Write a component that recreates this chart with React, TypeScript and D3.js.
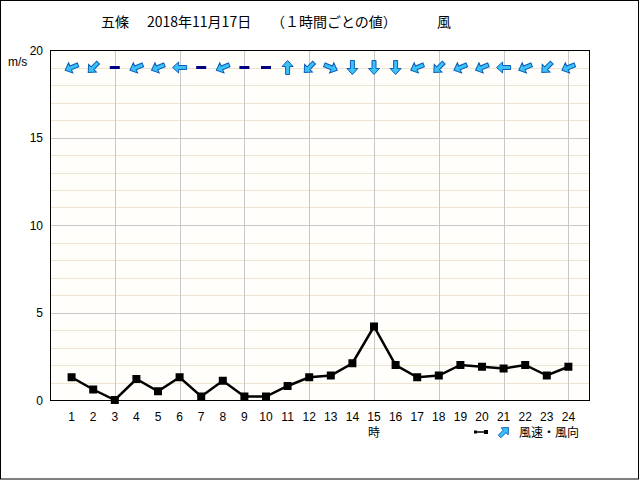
import React, { useEffect, useRef } from "react";
import * as d3 from "d3";

const hours = [1, 2, 3, 4, 5, 6, 7, 8, 9, 10, 11, 12, 13, 14, 15, 16, 17, 18, 19, 20, 21, 22, 23, 24];
const speeds = [1.3, 0.6, 0.0, 1.2, 0.5, 1.3, 0.2, 1.1, 0.2, 0.2, 0.8, 1.3, 1.4, 2.1, 4.2, 2.0, 1.3, 1.4, 2.0, 1.9, 1.8, 2.0, 1.4, 1.9];
const directions = ["東北東", "北東", "静穏", "東北東", "東北東", "東", "静穏", "東北東", "静穏", "静穏", "南", "北東", "西北西", "北", "北", "北", "東北東", "北東", "東北東", "東北東", "東", "東北東", "北東", "東北東"];
const compass = ["北", "北北東", "北東", "東北東", "東", "東南東", "南東", "南南東", "南", "南南西", "南西", "西南西", "西", "西北西", "北西", "北北西"];
const yTicks = [0, 5, 10, 15, 20];
const titleParts = ["五條", "2018年11月17日", "（１時間ごとの値）", "風"];
const yUnit = "m/s";
const xUnit = "時";
const legendLabel = "風速・風向";

const ARROW = "M0,-7 L5.5,-1 L2,-1 L2,7 L-2,7 L-2,-1 L-5.5,-1 Z";

export default function App() {
  const ref = useRef<SVGSVGElement>(null);
  useEffect(() => {
    const svg = d3.select(ref.current);
    svg.selectAll("*").remove();
    const L = 50, T = 50, R = 590, B = 400;
    const x = d3.scaleLinear().domain([0, 25]).range([L, R]);
    const y = d3.scaleLinear().domain([0, 20]).range([B, T]);

    svg.append("rect").attr("x", 0).attr("y", 0).attr("width", 640).attr("height", 480).attr("fill", "#fff");
    svg.append("rect").attr("x", 0.5).attr("y", 0.5).attr("width", 638).attr("height", 478.5)
      .attr("fill", "none").attr("stroke", "#000");

    const titleX = [101, 147, 271, 437];
    svg.selectAll("text.title").data(titleParts).enter().append("text")
      .attr("x", (d, i) => titleX[i]).attr("y", 27)
      .attr("font-family", "'Noto Sans CJK JP'").attr("font-size", 14).attr("fill", "#000")
      .text(d => d);

    svg.append("rect").attr("x", L).attr("y", T).attr("width", R - L).attr("height", B - T).attr("fill", "#fffefa");

    const minor = d3.range(1, 20).filter(v => v % 5 !== 0);
    svg.selectAll("line.minor").data(minor).enter().append("line")
      .attr("x1", L).attr("x2", R).attr("y1", d => Math.round(y(d)) + 0.5).attr("y2", d => Math.round(y(d)) + 0.5)
      .attr("stroke", "#eee4cf").attr("stroke-width", 1);
    svg.selectAll("line.major").data([5, 10, 15]).enter().append("line")
      .attr("x1", L).attr("x2", R).attr("y1", d => Math.round(y(d)) + 0.5).attr("y2", d => Math.round(y(d)) + 0.5)
      .attr("stroke", "#c8c8c8").attr("stroke-width", 1);
    svg.selectAll("line.vmajor").data(d3.range(3, 25, 3)).enter().append("line")
      .attr("y1", T).attr("y2", B).attr("x1", d => Math.round(x(d)) + 0.5).attr("x2", d => Math.round(x(d)) + 0.5)
      .attr("stroke", "#c8c8c8").attr("stroke-width", 1);

    svg.append("rect").attr("x", L + 0.5).attr("y", T + 0.5).attr("width", R - L - 1).attr("height", B - T)
      .attr("fill", "none").attr("stroke", "#000");

    const lab = { "font-family": "'Liberation Sans', Arial, sans-serif", "font-size": 12 } as any;
    svg.selectAll("text.yt").data(yTicks).enter().append("text")
      .attr("x", 43).attr("y", d => y(d) + 4.5).attr("text-anchor", "end")
      .attr("font-family", lab["font-family"]).attr("font-size", 12).text(d => d);
    svg.append("text").attr("x", 8).attr("y", 66).attr("font-family", lab["font-family"]).attr("font-size", 12).text(yUnit);

    svg.selectAll("text.xt").data(hours).enter().append("text")
      .attr("x", d => x(d)).attr("y", 420.5).attr("text-anchor", "middle")
      .attr("font-family", lab["font-family"]).attr("font-size", 12).text(d => d);
    svg.append("text").attr("x", x(15)).attr("y", 437).attr("text-anchor", "middle")
      .attr("font-family", "'Noto Sans CJK JP'").attr("font-size", 12).text(xUnit);

    // line
    const line = d3.line<number>().x((d, i) => x(hours[i])).y(d => y(d));
    svg.append("path").datum(speeds).attr("d", line).attr("fill", "none").attr("stroke", "#000")
      .attr("stroke-width", 2.5).attr("stroke-linejoin", "miter");
    svg.selectAll("rect.pt").data(speeds).enter().append("rect")
      .attr("x", (d, i) => x(hours[i]) - 4).attr("y", d => y(d) - 4).attr("width", 8).attr("height", 8).attr("fill", "#000");

    // arrows
    const ay = y(19);
    directions.forEach((dir, i) => {
      const cx = x(hours[i]);
      if (dir === "静穏") {
        svg.append("rect").attr("x", cx - 5).attr("y", ay - 1.5).attr("width", 10).attr("height", 3).attr("fill", "#000080");
      } else {
        const from = compass.indexOf(dir) * 22.5;
        const to = (from + 180) % 360;
        svg.append("path").attr("d", ARROW).attr("transform", `translate(${cx},${ay}) rotate(${to})`)
          .attr("fill", "#3ac2f8").attr("stroke", "#0b5db8").attr("stroke-width", 1).attr("stroke-linejoin", "miter");
      }
    });

    // legend
    const ly = 432;
    svg.append("line").attr("x1", 475).attr("x2", 487).attr("y1", ly).attr("y2", ly).attr("stroke", "#000").attr("stroke-width", 1.5);
    svg.append("rect").attr("x", 474).attr("y", ly - 1.5).attr("width", 3).attr("height", 3).attr("fill", "#000");
    svg.append("rect").attr("x", 484).attr("y", ly - 2).attr("width", 4).attr("height", 4).attr("fill", "#000");
    svg.append("path").attr("d", ARROW).attr("transform", `translate(504,${ly}) rotate(45) scale(0.9)`)
      .attr("fill", "#3ac2f8").attr("stroke", "#0b5db8").attr("stroke-width", 1);
    svg.append("text").attr("x", 519).attr("y", ly + 4.5).attr("font-family", "'Noto Sans CJK JP'").attr("font-size", 12).text(legendLabel);
  }, []);
  return (
    <svg ref={ref} width={640} height={480} style={{ position: "absolute", left: 0, top: 0 }} />
  );
}
